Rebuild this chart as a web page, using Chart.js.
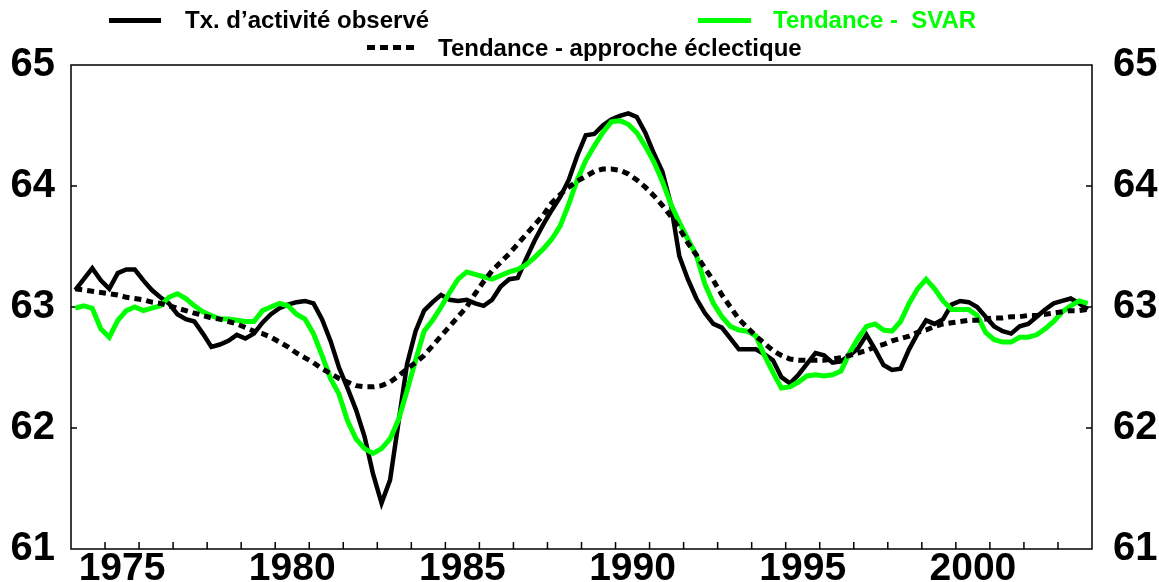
<!DOCTYPE html>
<html lang="fr">
<head>
<meta charset="utf-8">
<title>Taux d'activité</title>
<script src="https://cdn.jsdelivr.net/npm/chart.js@4.4.1/dist/chart.umd.min.js"></script>
<style>
  html, body { margin: 0; padding: 0; background: #fff; }
  #wrap { position: relative; width: 1159px; height: 582px; }
  #chart { position: absolute; left: 0; top: 0; }
  .lg { position: absolute; font: bold 24px "Liberation Sans", Arial, sans-serif; white-space: pre; line-height: 1; }
  .sw { position: absolute; height: 5px; }
</style>
</head>
<body>
<div id="wrap">
  <canvas id="chart" width="1159" height="582"></canvas>
  <div class="sw" style="left:109px; top:18px; width:52px; background:#000;"></div>
  <div class="lg" style="left:185px; top:8px; color:#000;">Tx. d’activité observé</div>
  <div class="sw" style="left:698px; top:18px; width:53px; background:#00ff00;"></div>
  <div class="lg" style="left:773px; top:8px; color:#00ff00;">Tendance -  SVAR</div>
  <div class="sw" style="left:367px; top:45px; width:48px; background:repeating-linear-gradient(90deg, #000 0 8px, transparent 8px 13px);"></div>
  <div class="lg" style="left:438px; top:36px; color:#000;">Tendance - approche éclectique</div>
</div>
<script>
// quarterly data, 1974T1 - 2003T4
const startYear = 1974;
const endYear = 2004;

const observed = [
  63.14, 63.23, 63.32, 63.22, 63.15, 63.28, 63.31, 63.31, 63.22, 63.14,
  63.08, 63.03, 62.94, 62.90, 62.88, 62.78, 62.67, 62.69, 62.72, 62.77,
  62.74, 62.78, 62.87, 62.94, 62.99, 63.02, 63.04, 63.05, 63.03, 62.90,
  62.72, 62.50, 62.33, 62.15, 61.93, 61.62, 61.38, 61.57, 62.05, 62.53,
  62.80, 62.97, 63.04, 63.10, 63.06, 63.05, 63.06, 63.03, 63.01, 63.06,
  63.17, 63.23, 63.24, 63.40, 63.55, 63.68, 63.80, 63.91, 64.05, 64.25,
  64.42, 64.43, 64.50, 64.55, 64.58, 64.60, 64.57, 64.44, 64.27, 64.12,
  63.85, 63.42, 63.23, 63.07, 62.95, 62.86, 62.83, 62.74, 62.65, 62.65,
  62.65, 62.61, 62.56, 62.42, 62.37, 62.44, 62.53, 62.62, 62.60, 62.54,
  62.55, 62.60, 62.66, 62.77, 62.65, 62.52, 62.48, 62.49, 62.65, 62.78,
  62.89, 62.86, 62.90, 63.02, 63.05, 63.04, 63.00, 62.92, 62.84, 62.80,
  62.78, 62.84, 62.86, 62.92, 62.98, 63.03, 63.05, 63.07, 63.03, 62.98
];

const trendSvar = [
  62.99, 63.01, 62.99, 62.82, 62.75, 62.89, 62.97, 63.00, 62.97, 62.99,
  63.01, 63.08, 63.11, 63.07, 63.01, 62.96, 62.93, 62.90, 62.90, 62.89,
  62.88, 62.88, 62.97, 63.00, 63.03, 63.01, 62.94, 62.90, 62.78, 62.60,
  62.41, 62.28, 62.06, 61.91, 61.83, 61.79, 61.83, 61.91, 62.07, 62.31,
  62.56, 62.80, 62.89, 63.00, 63.12, 63.23, 63.29, 63.27, 63.25, 63.23,
  63.26, 63.29, 63.31, 63.35, 63.41, 63.48, 63.56, 63.67, 63.85, 64.05,
  64.21, 64.33, 64.44, 64.53, 64.54, 64.51, 64.44, 64.33, 64.20, 64.04,
  63.85, 63.70, 63.56, 63.43, 63.19, 63.03, 62.92, 62.84, 62.81, 62.80,
  62.76, 62.60, 62.46, 62.33, 62.34, 62.38, 62.43, 62.44, 62.43, 62.44,
  62.47, 62.62, 62.74, 62.84, 62.86, 62.81, 62.80, 62.88, 63.03, 63.15,
  63.23, 63.15, 63.05, 62.98, 62.98, 62.98, 62.93, 62.79, 62.73, 62.71,
  62.71, 62.75, 62.75, 62.77, 62.82, 62.88, 62.96, 63.01, 63.05, 63.03
];

const trendEclectic = [
  63.15, 63.14, 63.13, 63.12, 63.11, 63.10, 63.08, 63.07, 63.06, 63.04,
  63.03, 63.01, 62.99, 62.97, 62.95, 62.93, 62.91, 62.90, 62.88, 62.86,
  62.83, 62.80, 62.78, 62.75, 62.71, 62.67, 62.62, 62.58, 62.54, 62.49,
  62.45, 62.41, 62.38, 62.35, 62.34, 62.34, 62.35, 62.38, 62.43, 62.49,
  62.54, 62.60, 62.68, 62.76, 62.84, 62.92, 63.00, 63.11, 63.21, 63.30,
  63.37, 63.44, 63.52, 63.60, 63.68, 63.76, 63.86, 63.93, 63.99, 64.04,
  64.08, 64.12, 64.14, 64.14, 64.13, 64.10, 64.05, 63.99, 63.92, 63.84,
  63.75, 63.65, 63.53, 63.43, 63.32, 63.22, 63.10, 63.00, 62.90, 62.83,
  62.76, 62.70, 62.64, 62.60, 62.57, 62.56, 62.56, 62.56, 62.56, 62.57,
  62.58, 62.60, 62.62, 62.64, 62.67, 62.69, 62.72, 62.74, 62.76, 62.79,
  62.81, 62.84, 62.86, 62.87, 62.88, 62.89, 62.89, 62.90, 62.91, 62.91,
  62.92, 62.92, 62.93, 62.93, 62.94, 62.95, 62.96, 62.97, 62.97, 62.98
];

const xLabelYears = [1975, 1980, 1985, 1990, 1995, 2000];
const yTicks = [61, 62, 63, 64, 65];

// each quarter sits in the middle of its slot
const toPoints = (arr) => arr.map((v, i) => ({ x: startYear + (i + 0.5) / 4, y: v }));

Chart.defaults.font.family = '"Liberation Sans", Arial, sans-serif';
Chart.defaults.color = '#000';

// frame + inward tick marks, like the original spreadsheet chart
const framePlugin = {
  id: 'framePlugin',
  beforeDatasetsDraw(chart) {
    const { ctx, chartArea: a, scales } = chart;
    ctx.save();
    ctx.strokeStyle = '#000';
    ctx.lineWidth = 1.5;
    ctx.strokeRect(a.left, a.top, a.right - a.left, a.bottom - a.top);
    ctx.beginPath();
    for (let yr = startYear + 1; yr < endYear; yr++) {
      const px = scales.x.getPixelForValue(yr);
      ctx.moveTo(px, a.bottom);
      ctx.lineTo(px, a.bottom - 7);
    }
    yTicks.slice(1, -1).forEach((t) => {
      const py = scales.y.getPixelForValue(t);
      ctx.moveTo(a.left, py);
      ctx.lineTo(a.left + 6, py);
      ctx.moveTo(a.right, py);
      ctx.lineTo(a.right - 6, py);
    });
    ctx.stroke();
    ctx.restore();
  }
};

const yAxis = (position, width, padding) => ({
  type: 'linear',
  position,
  min: 61,
  max: 65,
  grid: { display: false },
  border: { display: false },
  afterBuildTicks: (scale) => { scale.ticks = yTicks.map((v) => ({ value: v })); },
  afterFit: (scale) => { scale.width = width; },
  ticks: {
    padding,
    font: { size: 40, weight: 'bold', lineHeight: 1 },
    callback: (v) => v
  }
});

new Chart(document.getElementById('chart'), {
  type: 'line',
  data: {
    datasets: [
      {
        label: 'Tendance - approche éclectique',
        data: toPoints(trendEclectic),
        borderColor: '#000',
        borderWidth: 5,
        borderDash: [7, 5],
        borderCapStyle: 'butt',
        pointRadius: 0,
        order: 0
      },
      {
        label: 'Tendance -  SVAR',
        data: toPoints(trendSvar),
        borderColor: '#00ff00',
        borderWidth: 5,
        pointRadius: 0,
        order: 1
      },
      {
        label: 'Tx. d’activité observé',
        data: toPoints(observed),
        borderColor: '#000',
        borderWidth: 4.5,
        pointRadius: 0,
        order: 2
      }
    ]
  },
  options: {
    responsive: false,
    animation: false,
    layout: { padding: { top: 65, left: 0, right: 0, bottom: 0 } },
    plugins: {
      legend: { display: false },
      tooltip: { enabled: false }
    },
    scales: {
      x: {
        type: 'linear',
        min: startYear,
        max: endYear,
        grid: { display: false },
        border: { display: false },
        afterBuildTicks: (scale) => { scale.ticks = xLabelYears.map((y) => ({ value: y + 0.5 })); },
        afterFit: (scale) => { scale.height = 33; },
        ticks: {
          autoSkip: false,
          maxRotation: 0,
          padding: -11,
          font: { size: 39, weight: 'bold' },
          callback: (v) => String(Math.floor(v))
        }
      },
      y: yAxis('left', 71, 8),
      y2: yAxis('right', 67, 13)
    }
  },
  plugins: [framePlugin]
});
</script>
</body>
</html>
